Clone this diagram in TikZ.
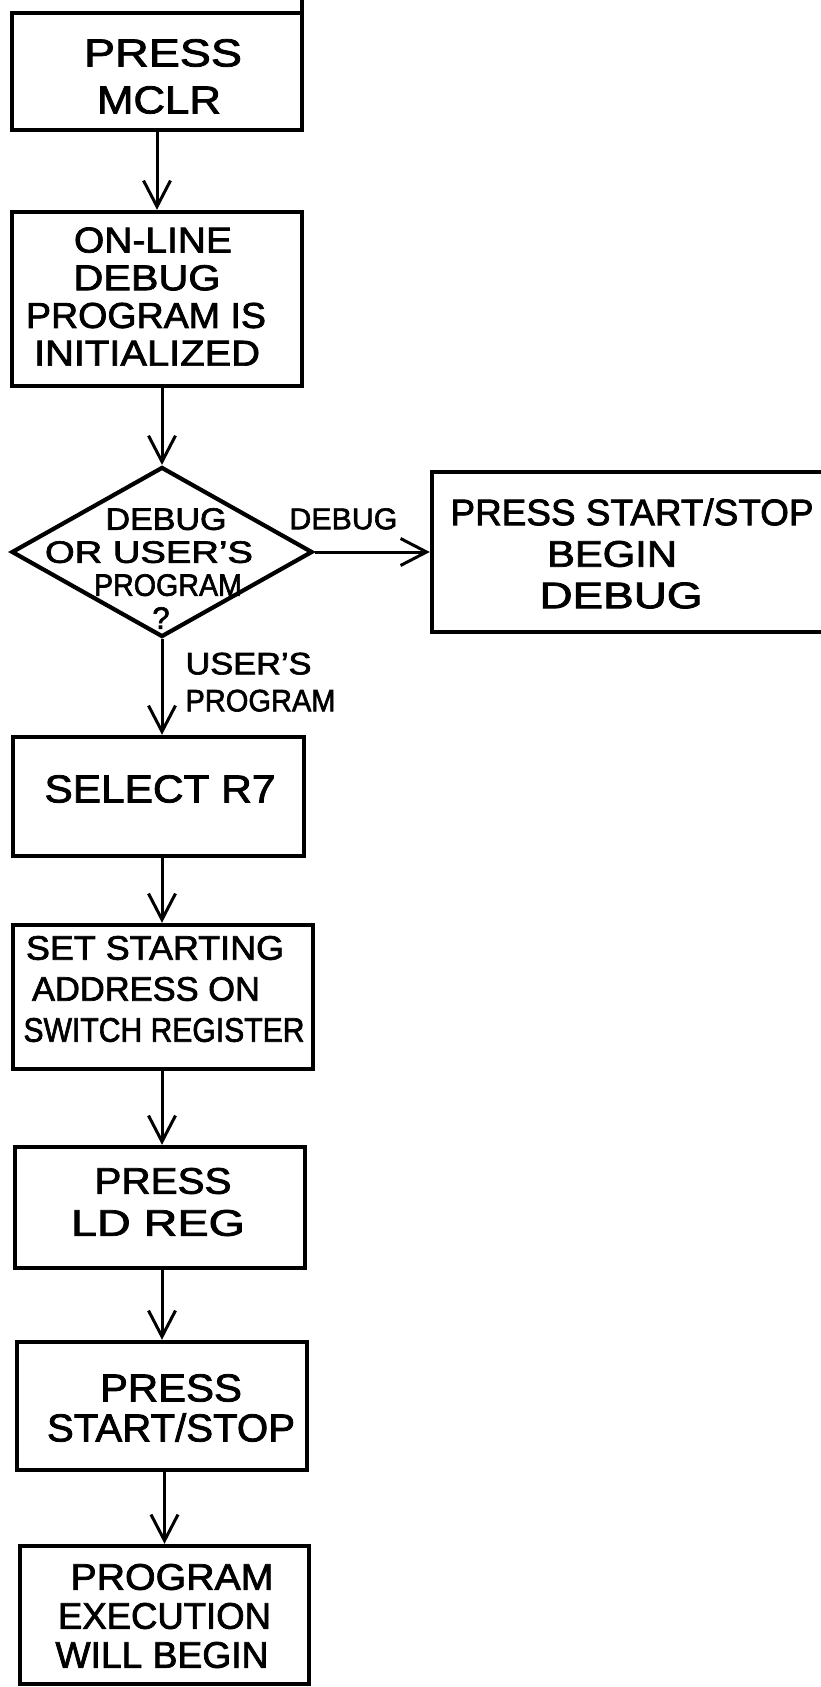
\documentclass[tikz,border=0pt]{standalone}
\usepackage{fontspec}
\setmainfont{Liberation Sans}[FakeBold=2]
\usepackage{graphicx}
\usetikzlibrary{arrows.meta,shapes.geometric}
\newcommand\Lx[3]{\hspace*{#1pt}\resizebox{#2pt}{\height}{#3}}
\begin{document}
\begin{tikzpicture}[x=1pt,y=-1pt,
  box/.style={draw, line width=4.4pt, inner sep=0pt},
  txt/.style={align=center, inner sep=0pt},
  lbl/.style={align=left, inner sep=0pt, font=\fontsize{31}{37}\selectfont},
  arr/.style={line width=3pt, -{Straight Barb[length=26pt,width=27pt]}},
]
\fill[white] (0,0) rectangle (821,1687);
\useasboundingbox (0,0) rectangle (821,1687);

% boxes
\node[box, minimum width=290, minimum height=117] (b1) at (157,71.5) {};
\node[box, minimum width=290, minimum height=174] (b2) at (157,299) {};
\node[draw, diamond, line width=4.2pt, inner sep=0pt, shape aspect=1.77,
      minimum width=301, minimum height=170] (d) at (162,552) {};
\node[box, minimum width=391, minimum height=160] (rb) at (627.5,552) {};
\node[box, minimum width=291, minimum height=119] (b3) at (158.5,796.5) {};
\node[box, minimum width=300, minimum height=144] (b4) at (163,997) {};
\node[box, minimum width=290, minimum height=121] (b5) at (160,1207.5) {};
\node[box, minimum width=290, minimum height=128] (b6) at (162,1406) {};
\node[box, minimum width=289, minimum height=138] (b7) at (164.5,1615) {};
\draw[line width=4pt] (b1.north east) ++(-2.2,0) -- ++(0,-11);

% texts
\node[txt, font=\fontsize{39}{47}\selectfont] (t1) at (157,76.5)
  {\Lx{12}{158}{PRESS}\\\Lx{4}{124}{MCLR}};
\node[txt, font=\fontsize{36}{37.7}\selectfont] (t2) at (157,296.5)
  {\Lx{-8}{158}{ON-LINE}\\\Lx{-20}{147}{DEBUG}\\\Lx{-22}{240}{PROGRAM IS}\\\Lx{-20}{226}{INITIALIZED}};
\node[txt, font=\fontsize{31}{33}\selectfont] (td) at (161,568.5)
  {\Lx{10}{121}{DEBUG}\\\Lx{-24}{208}{OR USER'S}\\\Lx{14}{148}{PROGRAM}\\?};
\node[txt, font=\fontsize{37}{41.5}\selectfont] (trb) at (625,553.5)
  {\Lx{14}{363}{PRESS START/STOP}\\\Lx{-26}{130}{BEGIN}\\\Lx{-8}{163}{DEBUG}};
\node[txt, font=\fontsize{39}{47}\selectfont] (t3) at (158.5,789)
  {\Lx{3}{231}{SELECT R7}};
\node[txt, font=\fontsize{34}{41}\selectfont] (t4) at (163,989)
  {\Lx{-16}{258}{SET STARTING}\\\Lx{-34}{228}{ADDRESS ON}\\\Lx{2}{281}{SWITCH REGISTER}};
\node[txt, font=\fontsize{37}{42}\selectfont] (t5) at (160,1202)
  {\Lx{6}{137}{PRESS}\\\Lx{-4}{174}{LD REG}};
\node[txt, font=\fontsize{39}{40}\selectfont] (t6) at (162,1408)
  {\Lx{18}{142}{PRESS}\\\Lx{18}{248}{START/STOP}};
\node[txt, font=\fontsize{37}{39}\selectfont] (t7) at (164.5,1616)
  {\Lx{15}{203}{PROGRAM}\\\Lx{0}{213}{EXECUTION}\\\Lx{-5}{213}{WILL BEGIN}};

% connectors
\draw[arr] (b1.south) -- (b2.north);
\draw[arr] (b2.south -| d.north) -- (d.north);
\draw[arr] (d.east) -- node[pos=0.25, above=21pt, inner sep=0pt,
  font=\fontsize{30}{36}\selectfont] (ldebug) {\resizebox{108pt}{\height}{DEBUG}} (rb.west);
\draw[arr] (d.south) -- node[pos=0.45, anchor=west, xshift=22pt, lbl] (luser)
  {\resizebox{126pt}{\height}{USER'S}\\\resizebox{150pt}{\height}{PROGRAM}} (d.south |- b3.north);
\draw[arr] (b3.south -| d.south) -- (b4.north -| d.south);
\draw[arr] (b4.south -| d.south) -- (b5.north -| d.south);
\draw[arr] (b5.south -| b6.north) -- (b6.north);
\draw[arr] (b6.south -| b7.north) -- (b7.north);
\end{tikzpicture}
\end{document}
